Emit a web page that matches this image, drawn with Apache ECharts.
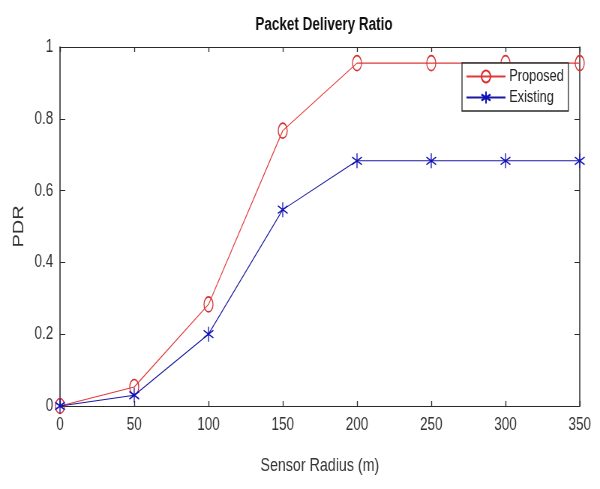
<!DOCTYPE html>
<html>
<head>
<meta charset="utf-8">
<script src="https://cdn.jsdelivr.net/npm/echarts@6/dist/echarts.min.js"></script>
<style>
html,body{margin:0;padding:0;background:#fff;width:600px;height:489px;overflow:hidden}
/* the chart is laid out on a wider canvas and narrowed horizontally */
#c{width:800px;height:489px;transform:scaleX(0.75);transform-origin:0 0}
</style>
</head>
<body>
<div id="c"></div>
<script>
// Sensor radius (m) on the x axis
const radius = [0, 50, 100, 150, 200, 250, 300, 350];
// Packet delivery ratio per scheme
const proposed = [0, 0.053, 0.283, 0.767, 0.955, 0.955, 0.955, 0.955];
const existing = [0, 0.03, 0.2, 0.547, 0.683, 0.683, 0.683, 0.683];
const xTicks = [0, 50, 100, 150, 200, 250, 300, 350];
const yTicks = [0, 0.2, 0.4, 0.6, 0.8, 1];

const font = '"Liberation Sans", Arial, sans-serif';
const asterisk = 'path://M0,-10L0,10M-8.66,-5L8.66,5M-8.66,5L8.66,-5';

const pairs = (ys) => radius.map((x, i) => [x, ys[i]]);

const lineCol = '#2a2a2a';
const xBox = {
  axisLine: { onZero: false, lineStyle: { color: lineCol, width: 1.2 } },
  axisTick: { inside: true, length: 5, lineStyle: { color: lineCol, width: 1.3 } },
  splitLine: { show: false }
};
const yBox = {
  axisLine: { onZero: false, lineStyle: { color: lineCol, width: 1.5 } },
  axisTick: { inside: true, length: 7, lineStyle: { color: lineCol, width: 1 } },
  splitLine: { show: false }
};

const chart = echarts.init(document.getElementById('c'));
chart.setOption({
  animation: false,
  backgroundColor: '#fff',
  title: {
    text: 'Packet Delivery Ratio',
    left: 427, top: 11, textAlign: 'center',
    textStyle: { fontFamily: font, fontWeight: 'bold', fontSize: 18, color: '#111' }
  },
  grid: {
    left: 80, right: 27, top: 47, bottom: 83,
    outerBoundsMode: 'none', containLabel: false
  },
  legend: {
    orient: 'vertical', left: 616, top: 63,
    backgroundColor: '#fff', borderColor: lineCol, borderWidth: 1.3,
    padding: [5, 6, 5, 5], itemGap: 4, itemWidth: 52, itemHeight: 15,
    textStyle: { fontFamily: font, fontSize: 17, color: '#222' },
    data: ['Proposed', 'Existing']
  },
  xAxis: [Object.assign({
    type: 'value', min: 0, max: 350, interval: 50,
    name: 'Sensor Radius (m)', nameLocation: 'middle', nameGap: 50,
    nameTextStyle: { fontFamily: font, fontSize: 19, color: '#333' },
    axisLabel: { fontFamily: font, fontSize: 18, color: '#333', margin: 10,
      formatter: v => xTicks.includes(v) ? String(v) : '' }
  }, xBox), Object.assign({
    type: 'value', position: 'top', min: 0, max: 350, interval: 50,
    axisLabel: { show: false }
  }, xBox)],
  yAxis: [Object.assign({
    type: 'value', min: 0, max: 1, interval: 0.2,
    name: 'PDR', nameLocation: 'middle', nameGap: 42,
    nameTextStyle: { fontFamily: font, fontSize: 20, color: '#333' },
    axisLabel: { fontFamily: font, fontSize: 18, color: '#333', margin: 9,
      formatter: v => { const t = yTicks.find(k => Math.abs(k - v) < 1e-9); return t === undefined ? '' : String(t); } }
  }, yBox), Object.assign({
    type: 'value', position: 'right', min: 0, max: 1, interval: 0.2,
    axisLabel: { show: false }
  }, yBox)],
  series: [{
    name: 'Proposed', type: 'line', data: pairs(proposed),
    symbol: 'circle', symbolSize: [12, 15], showAllSymbol: true,
    lineStyle: { color: '#e03a3a', width: 1.1 },
    itemStyle: { color: 'rgba(0,0,0,0)', borderColor: '#d83030', borderWidth: 1.4 },
    z: 3
  }, {
    name: 'Existing', type: 'line', data: pairs(existing),
    symbol: asterisk, symbolSize: [13, 15], showAllSymbol: true,
    lineStyle: { color: '#1a1aa0', width: 1.1 },
    itemStyle: { color: 'rgba(0,0,0,0)', borderColor: '#1010b8', borderWidth: 1.4 },
    z: 4
  }]
});
</script>
</body>
</html>
